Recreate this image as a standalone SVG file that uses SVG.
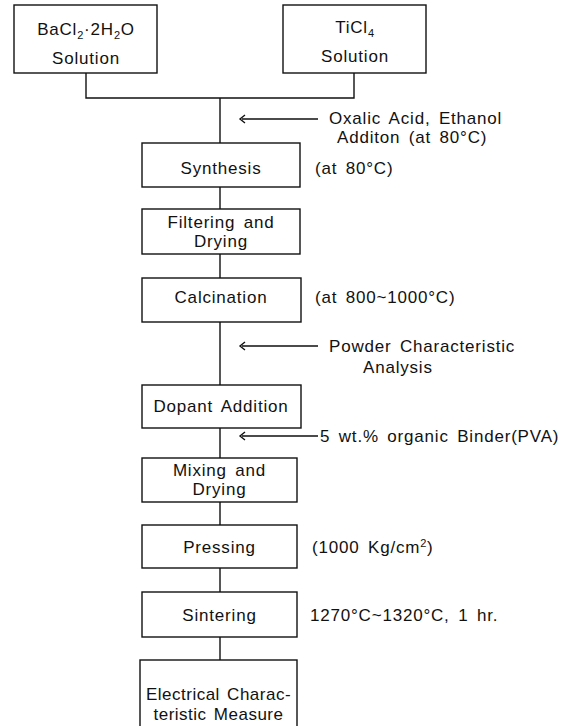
<svg xmlns="http://www.w3.org/2000/svg" width="578" height="726" viewBox="0 0 578 726">
<style>
.box{fill:#fff;stroke:#111;stroke-width:1.4}
.ln{fill:none;stroke:#111;stroke-width:1.4}
text{font-family:"Liberation Sans",Arial,sans-serif;font-size:17px;fill:#111;letter-spacing:0.8px;word-spacing:3px}
.c{text-anchor:middle}
.sub{font-size:11px}
.tight{letter-spacing:0.5px;word-spacing:2px}
</style>
<rect width="578" height="726" fill="#fff"/>
<g id="connectors">
<path class="ln" d="M86,73 V98 H354 V73"/>
<path class="ln" d="M220,98 V143 M220,187 V209 M220,254 V278 M220,322 V385 M220,428 V458 M220,502 V525 M220,568 V592 M220,637 V660"/>
<path class="ln" d="M245,115 L240,119 L245,123 M242,119 H318"/>
<path class="ln" d="M245,342 L240,346 L245,350 M242,346 H318"/>
<path class="ln" d="M245,432 L240,436 L245,440 M242,436 H318"/>
</g>
<g id="bacl2">
<rect class="box" x="14" y="5" width="143" height="68"/>
<text class="c" x="86" y="35">BaCl<tspan class="sub" dy="4">2</tspan><tspan dy="-4">·2H</tspan><tspan class="sub" dy="4">2</tspan><tspan dy="-4">O</tspan></text>
<text class="c" x="86" y="64">Solution</text>
</g>
<g id="ticl4">
<rect class="box" x="283" y="5" width="143" height="68"/>
<text class="c" x="355" y="33">TiCl<tspan class="sub" dy="4">4</tspan></text>
<text class="c" x="355" y="62">Solution</text>
</g>
<g id="oxalic">
<text x="329" y="124">Oxalic Acid, Ethanol</text>
<text x="337" y="143">Additon (at 80°C)</text>
</g>
<g id="synthesis">
<rect class="box" x="142" y="143" width="158" height="44"/>
<text class="c" x="221" y="174">Synthesis</text>
<text x="315" y="174">(at 80°C)</text>
</g>
<g id="filtering">
<rect class="box" x="142" y="209" width="158" height="45"/>
<text class="c" x="221" y="227.5">Filtering and</text>
<text class="c" x="221" y="246.5">Drying</text>
</g>
<g id="calcination">
<rect class="box" x="142" y="278" width="159" height="44"/>
<text class="c" x="221" y="303">Calcination</text>
<text x="315" y="303">(at 800~1000°C)</text>
</g>
<g id="powder">
<text x="329" y="352">Powder Characteristic</text>
<text x="363" y="373">Analysis</text>
</g>
<g id="dopant">
<rect class="box" x="142" y="385" width="159" height="43"/>
<text class="c" x="221" y="411.5">Dopant Addition</text>
</g>
<g id="binder">
<text x="320" y="442">5 wt.% organic Binder(PVA)</text>
</g>
<g id="mixing">
<rect class="box" x="142" y="458" width="155" height="44"/>
<text class="c" x="219.5" y="476">Mixing and</text>
<text class="c" x="219.5" y="495">Drying</text>
</g>
<g id="pressing">
<rect class="box" x="142" y="525" width="155" height="43"/>
<text class="c" x="219.5" y="553">Pressing</text>
<text x="312" y="553">(1000 Kg/cm<tspan class="sub" dy="-6">2</tspan><tspan dy="6">)</tspan></text>
</g>
<g id="sintering">
<rect class="box" x="142" y="592" width="155" height="45"/>
<text class="c" x="219.5" y="621">Sintering</text>
<text x="310" y="621">1270°C~1320°C, 1 hr.</text>
</g>
<g id="electrical">
<rect class="box" x="140" y="660" width="157" height="80"/>
<text class="c tight" x="218.5" y="700">Electrical Charac-</text>
<text class="c tight" x="218.5" y="720">teristic Measure</text>
</g>
</svg>
